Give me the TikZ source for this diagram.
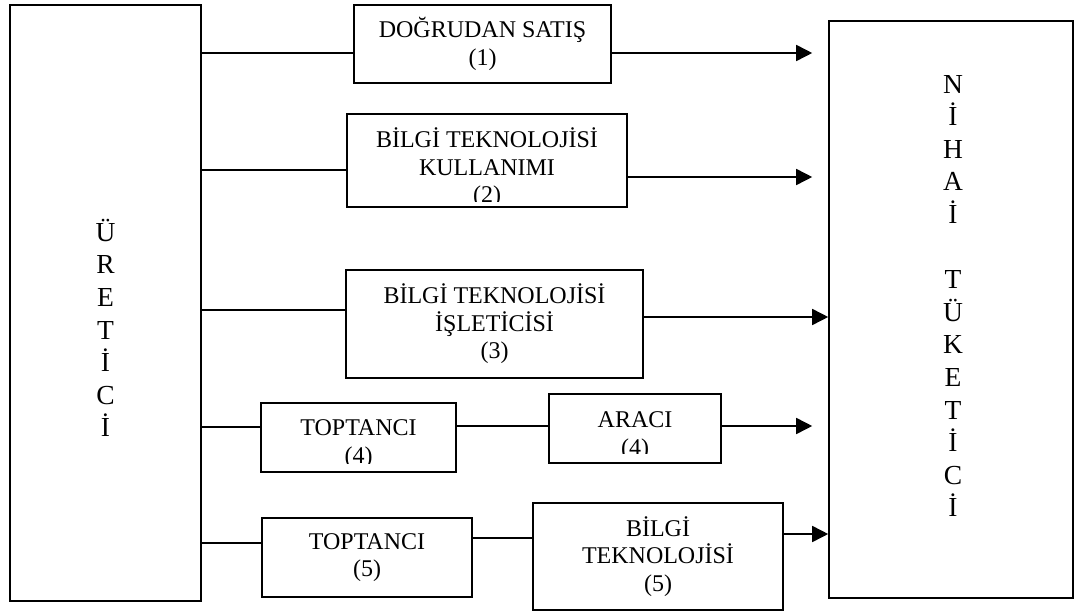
\documentclass[tikz,border=0pt]{standalone}
\usepackage{fontspec}
\setmainfont{Liberation Serif}
\usetikzlibrary{arrows.meta, positioning}

\tikzset{
  kutu/.style={draw, line width=1.6pt, inner sep=0pt, align=center,
    font=\fontsize{24}{27.5}\selectfont},
  yazi/.style={align=center, inner sep=0pt, font=\fontsize{24}{27.5}\selectfont},
  dikey/.style={align=center, inner sep=0pt, font=\fontsize{27.5}{32.6}\selectfont},
  hat/.style={line width=1.6pt},
  ok/.style={line width=1.6pt, -{Triangle[length=16pt,width=16pt]}}
}

\begin{document}
\begin{tikzpicture}[x=1pt, y=-1pt]
\useasboundingbox (0,0) rectangle (1075,612);

    % Producer and consumer
    \node[kutu, minimum width=191pt, minimum height=596pt] (uretici) at (105.5,303) {};
    \node[dikey] (ureticiyazi) at (105.5,328) {Ü\\R\\E\\T\\İ\\C\\İ};
    \node[kutu, minimum width=244pt, minimum height=577pt] (nihai) at (951,309.5) {};
    \node[dikey] (nihaiyazi) at (953,296) {N\\İ\\H\\A\\İ\\[32.6pt]T\\Ü\\K\\E\\T\\İ\\C\\İ};

    % Channel boxes
    \node[kutu, minimum width=257pt, minimum height=78pt] (dogrudan) at (482.5,44) {DOĞRUDAN SATIŞ\\(1)};
    \node[kutu, minimum width=280pt, minimum height=93pt] (kullanim) at (487,160.5) {};
    \begin{scope}
      \clip (kullanim.north west) rectangle ([yshift=6pt]kullanim.south east);
      \node[yazi] (kullanimyazi) at (487,168) {BİLGİ TEKNOLOJİSİ\\KULLANIMI\\(2)};
    \end{scope}
    \node[kutu, minimum width=297pt, minimum height=108pt] (isletici) at (494.5,324) {BİLGİ TEKNOLOJİSİ\\İŞLETİCİSİ\\(3)};

    \node[kutu, minimum width=195pt, minimum height=69pt] (toptanci4) at (358.5,437.5) {};
    \begin{scope}
      \clip (toptanci4.north west) rectangle ([yshift=9pt]toptanci4.south east);
      \node[yazi] (toptanci4yazi) at (358.5,444) {TOPTANCI\\(4)};
    \end{scope}
    \node[kutu, minimum width=172pt, minimum height=69pt] (araci) at (635,428.5) {};
    \begin{scope}
      \clip (araci.north west) rectangle ([yshift=10pt]araci.south east);
      \node[yazi] (araciyazi) at (635,436) {ARACI\\(4)};
    \end{scope}

    \node[kutu, minimum width=210pt, minimum height=79pt] (toptanci5) at (367,557.5) {TOPTANCI\\(5)};
    \node[kutu, minimum width=250pt, minimum height=107pt] (bilgi5) at (658,556.5) {BİLGİ\\TEKNOLOJİSİ\\(5)};

    % Connectors
    \draw[hat] (uretici.east |- 0,53) -- (dogrudan.west |- 0,53);
    \draw[ok, shorten >=16pt] (dogrudan.east |- 0,53) -- (nihai.west |- 0,53);

    \draw[hat] (uretici.east |- 0,170) -- (kullanim.west |- 0,170);
    \draw[ok, shorten >=16pt] (kullanim.east |- 0,177) -- (nihai.west |- 0,177);

    \draw[hat] (uretici.east |- 0,310) -- (isletici.west |- 0,310);
    \draw[ok] (isletici.east |- 0,317) -- (nihai.west |- 0,317);

    \draw[hat] (uretici.east |- 0,427) -- (toptanci4.west |- 0,427);
    \draw[hat] (toptanci4.east |- 0,426) -- (araci.west |- 0,426);
    \draw[ok, shorten >=16pt] (araci.east |- 0,426) -- (nihai.west |- 0,426);

    \draw[hat] (uretici.east |- 0,543) -- (toptanci5.west |- 0,543);
    \draw[hat] (toptanci5.east |- 0,538) -- (bilgi5.west |- 0,538);
    \draw[ok] (bilgi5.east |- 0,534) -- (nihai.west |- 0,534);

\end{tikzpicture}
\end{document}
